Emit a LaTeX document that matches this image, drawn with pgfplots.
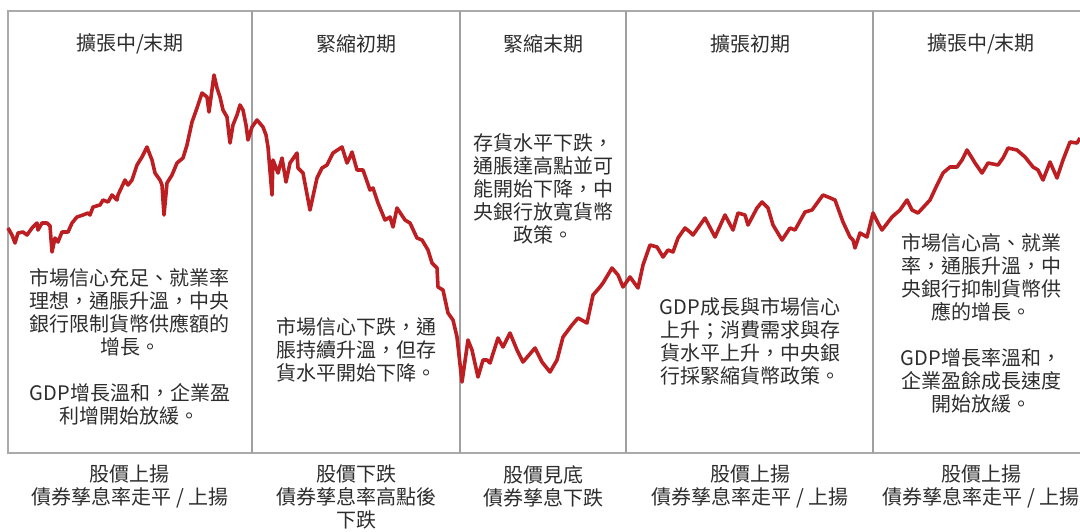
\documentclass[border=0pt]{standalone}
\usepackage{fontspec}
\setmainfont{Noto Sans CJK TC}
\newfontfamily\cjk{Noto Sans CJK TC}
\usepackage{pgfplots}
\pgfplotsset{compat=1.18}
\definecolor{linered}{RGB}{188,30,34}
\definecolor{txt}{RGB}{45,45,45}
\definecolor{boxgray}{RGB}{170,170,170}
\definecolor{divgray}{RGB}{160,160,160}
\tikzset{lbl/.style={font=\cjk\fontsize{10}{11.5}\selectfont, text=txt, align=center, inner sep=0pt}}
\begin{document}
\begin{tikzpicture}
\begin{axis}[
  width=540pt, height=265.5pt, scale only axis,
  xmin=0, xmax=1080, ymin=0, ymax=531, y dir=reverse,
  hide axis, clip=false,
]
% frame and dividers
\draw[boxgray, line width=0.8pt] (axis cs:1080,11) -- (axis cs:8,11) -- (axis cs:8,453) -- (axis cs:1080,453);
\draw[divgray, line width=0.6pt] (axis cs:252,11) -- (axis cs:252,453);
\draw[divgray, line width=0.6pt] (axis cs:460,11) -- (axis cs:460,453);
\draw[divgray, line width=0.6pt] (axis cs:626,11) -- (axis cs:626,453);
\draw[divgray, line width=0.6pt] (axis cs:873,11) -- (axis cs:873,453);
\addplot[linered, line width=1.8pt, line join=round, mark=none] coordinates {
(8,228)(12,235)(15,243)(18,233)(23,232)(27,235)(32,228)(37,223)(38,230)(42,223)(47,223)(50,226)(52,252)(55,238)(58,242)(62,232)(68,232)(72,223)(77,217)(83,215)(88,213)(90,215)(93,207)(100,205)(103,200)(108,202)(112,195)(117,200)(118,195)(125,180)(128,185)(132,180)(137,165)(142,157)(147,147)(150,155)(152,160)(155,173)(160,180)(162,185)(164,215)(167,183)(172,175)(177,163)(183,158)(187,145)(192,122)(197,108)(202,93)(207,97)(209,112)(214,75)(217,88)(220,97)(223,110)(227,117)(230,143)(233,125)(237,115)(240,105)(243,110)(246,125)(248,140)(252,127)(257,120)(263,127)(266,135)(268,147)(272,195)(273,160)(278,173)(282,158)(286,182)(290,163)(297,153)(298,168)(303,173)(310,210)(317,178)(322,168)(327,165)(333,153)(342,147)(347,163)(350,157)(352,152)(357,170)(363,170)(370,190)(373,188)(378,203)(385,220)(390,217)(393,227)(397,208)(405,220)(410,223)(417,238)(422,240)(428,250)(432,263)(437,268)(438,287)(443,290)(448,313)(453,320)(457,337)(462,382)(468,340)(472,350)(478,377)(483,360)(487,360)(490,363)(498,338)(503,347)(510,333)(517,350)(523,362)(535,348)(542,362)(550,372)(557,360)(563,337)(572,325)(578,318)(587,323)(593,295)(600,287)(603,283)(612,268)(618,275)(623,287)(630,277)(638,288)(643,265)(650,245)(657,247)(663,257)(668,250)(673,252)(678,238)(685,228)(690,232)(693,235)(705,218)(715,237)(725,215)(733,230)(738,213)(745,215)(748,225)(757,208)(762,202)(768,208)(773,225)(782,240)(790,228)(795,230)(805,212)(812,210)(823,195)(828,197)(835,200)(843,222)(850,237)(853,240)(855,248)(860,233)(867,237)(873,213)(878,223)(882,230)(892,217)(900,210)(907,200)(912,210)(918,213)(930,200)(937,185)(943,173)(950,167)(957,167)(962,160)(967,150)(972,158)(975,163)(982,173)(988,163)(998,165)(1003,158)(1008,148)(1017,150)(1025,157)(1033,167)(1038,170)(1043,180)(1050,162)(1057,178)(1063,160)(1070,142)(1077,143)(1080,138)
};
% titles
\node[lbl] at (axis cs:130,44) {擴張中/末期};
\node[lbl] at (axis cs:356,44) {緊縮初期};
\node[lbl] at (axis cs:543,44) {緊縮末期};
\node[lbl] at (axis cs:750,44) {擴張初期};
\node[lbl] at (axis cs:981,44) {擴張中/末期};
% body texts
\node[lbl] at (axis cs:130,347) {市場信心充足、就業率\\理想，通脹升溫，中央\\銀行限制貨幣供應額的\\增長。\\[11.5pt]GDP增長溫和，企業盈\\利增開始放緩。};
\node[lbl] at (axis cs:356,350) {市場信心下跌，通\\脹持續升溫，但存\\貨水平開始下降。};
\node[lbl] at (axis cs:543,189) {存貨水平下跌，\\通脹達高點並可\\能開始下降，中\\央銀行放寬貨幣\\政策。};
\node[lbl] at (axis cs:750,341) {GDP成長與市場信心\\上升；消費需求與存\\貨水平上升，中央銀\\行採緊縮貨幣政策。};
\node[lbl] at (axis cs:981,323) {市場信心高、就業\\率，通脹升溫，中\\央銀行抑制貨幣供\\應的增長。\\[11.5pt]GDP增長率溫和，\\企業盈餘成長速度\\開始放緩。};
% bottom labels
\node[lbl] at (axis cs:130,486) {股價上揚\\債券孳息率走平 / 上揚};
\node[lbl] at (axis cs:356,497) {股價下跌\\債券孳息率高點後\\下跌};
\node[lbl] at (axis cs:543,486) {股價見底\\債券孳息下跌};
\node[lbl] at (axis cs:750,486) {股價上揚\\債券孳息率走平 / 上揚};
\node[lbl] at (axis cs:981,486) {股價上揚\\債券孳息率走平 / 上揚};
\end{axis}
\pgfresetboundingbox
\path (0,0) rectangle (540pt,265.5pt);
\end{tikzpicture}
\end{document}
